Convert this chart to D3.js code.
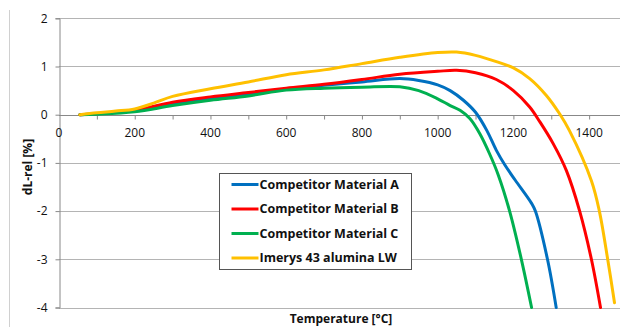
<!DOCTYPE html>
<html>
<head>
<meta charset="utf-8">
<script src="https://cdn.jsdelivr.net/npm/d3@7"></script>
<style>
  body { margin: 0; background: #fff; }
  svg { display: block; font-family: "Open Sans", "Noto Sans", sans-serif; }
</style>
</head>
<body>
<svg id="chart" width="620" height="327"></svg>
<script>
// series values
var seriesNames = ['Competitor Material A', 'Competitor Material B', 'Competitor Material C', 'Imerys 43 alumina LW'];
var seriesColors = ['#0070c0', '#ff0000', '#00b050', '#ffc000'];

var tempA = [55, 100, 200, 300, 400, 500, 600, 700, 800, 900, 950, 1000, 1033, 1068, 1100, 1130, 1155, 1178, 1205, 1248, 1258, 1290, 1313];
var dlA   = [0, 0.02, 0.08, 0.22, 0.33, 0.43, 0.53, 0.61, 0.68, 0.75, 0.71, 0.62, 0.50, 0.30, 0.05, -0.33, -0.74, -1.05, -1.36, -1.84, -2, -3, -4];

var tempB = [55, 100, 200, 300, 400, 500, 600, 700, 800, 900, 1000, 1050, 1100, 1155, 1200, 1243, 1270, 1305, 1340, 1375, 1406, 1430];
var dlB   = [0, 0.02, 0.09, 0.26, 0.37, 0.46, 0.55, 0.63, 0.73, 0.84, 0.90, 0.92, 0.87, 0.73, 0.50, 0.16, -0.15, -0.6, -1.16, -2, -3, -4];

var tempC = [55, 100, 200, 300, 400, 500, 600, 700, 800, 900, 950, 1000, 1033, 1059, 1085, 1111, 1137, 1160, 1190, 1221, 1248];
var dlC   = [0, 0.01, 0.06, 0.19, 0.30, 0.39, 0.51, 0.55, 0.57, 0.58, 0.50, 0.33, 0.19, 0.09, -0.08, -0.39, -0.81, -1.25, -2, -3, -4];

var tempD = [55, 100, 150, 200, 250, 300, 400, 500, 600, 700, 800, 900, 1000, 1050, 1100, 1155, 1200, 1243, 1287, 1322, 1348, 1406, 1427, 1449, 1467];
var dlD   = [0, 0.04, 0.075, 0.12, 0.24, 0.38, 0.54, 0.68, 0.83, 0.93, 1.06, 1.19, 1.29, 1.30, 1.23, 1.10, 0.97, 0.75, 0.40, 0.02, -0.33, -1.37, -2, -3, -3.9];

var xTicks = [0, 200, 400, 600, 800, 1000, 1200, 1400];
var xMinorTicks = d3.range(100, 1600, 100);
var yTicks = [-4, -3, -2, -1, 0, 1, 2];

var svg = d3.select('#chart');

var x = d3.scaleLinear().domain([0, 1500]).range([59, 627]);
var y = d3.scaleLinear().domain([-4, 2]).range([307.5, 18.3]);

// chart-area border on the left
svg.append('line')
  .attr('x1', 9.5).attr('x2', 9.5)
  .attr('y1', 10).attr('y2', 327)
  .attr('stroke', '#d0d0d0');

// horizontal gridlines
svg.append('g')
  .selectAll('line')
  .data(yTicks.filter(function (d) { return d !== 0; }))
  .enter()
  .append('line')
  .attr('x1', x(0)).attr('x2', 620)
  .attr('y1', function (d) { return Math.round(y(d)) + 0.5; })
  .attr('y2', function (d) { return Math.round(y(d)) + 0.5; })
  .attr('stroke', '#b4b4b4');

// y axis
var yAxis = d3.axisLeft(y)
  .tickValues(yTicks)
  .tickSize(4)
  .tickPadding(8)
  .tickFormat(function (d) { return String(d); });

var yG = svg.append('g')
  .attr('transform', 'translate(' + (x(0) + 0.5) + ',0)')
  .call(yAxis);
yG.select('.domain').attr('stroke', '#888');
yG.selectAll('.tick line').attr('stroke', '#888');
yG.selectAll('.tick text')
  .attr('font-family', '"Open Sans", sans-serif')
  .attr('font-size', 12)
  .attr('fill', '#111');

// x axis sits on zero
var zeroY = Math.round(y(0)) + 0.5;
var xAxis = d3.axisBottom(x)
  .tickValues(xMinorTicks)
  .tickSize(4)
  .tickFormat('');

var xG = svg.append('g')
  .attr('transform', 'translate(0,' + zeroY + ')')
  .call(xAxis);
xG.select('.domain').remove();
xG.selectAll('.tick line').attr('stroke', '#888');

svg.append('line')
  .attr('x1', x(0)).attr('x2', 620)
  .attr('y1', zeroY).attr('y2', zeroY)
  .attr('stroke', '#888');

svg.append('g')
  .selectAll('text')
  .data(xTicks)
  .enter()
  .append('text')
  .attr('x', function (d) { return x(d); })
  .attr('y', zeroY + 21)
  .attr('text-anchor', 'middle')
  .attr('font-size', 12)
  .attr('fill', '#111')
  .text(function (d) { return d; });

// lines
var line = d3.line()
  .x(function (d) { return x(d[0]); })
  .y(function (d) { return y(d[1]); })
  .curve(d3.curveCatmullRom.alpha(0.5));

var allTemps = [tempA, tempB, tempC, tempD];
var allDl = [dlA, dlB, dlC, dlD];

var series = allTemps.map(function (temps, i) {
  return temps.map(function (t, j) { return [t, allDl[i][j]]; });
});

svg.append('g')
  .selectAll('path')
  .data(series)
  .enter()
  .append('path')
  .attr('d', line)
  .attr('fill', 'none')
  .attr('stroke', function (d, i) { return seriesColors[i]; })
  .attr('stroke-width', 3)
  .attr('stroke-linejoin', 'round')
  .attr('stroke-linecap', 'round');

// axis titles
svg.append('text')
  .attr('transform', 'translate(32,167) rotate(-90)')
  .attr('text-anchor', 'middle')
  .attr('font-size', 12)
  .attr('font-weight', 'bold')
  .attr('fill', '#111')
  .text('dL-rel [%]');

svg.append('text')
  .attr('x', 341)
  .attr('y', 323)
  .attr('text-anchor', 'middle')
  .attr('font-size', 12)
  .attr('font-weight', 'bold')
  .attr('fill', '#111')
  .text('Temperature [°C]');

// legend
var legend = svg.append('g').attr('transform', 'translate(219.5,173.5)');
legend.append('rect')
  .attr('width', 192).attr('height', 96)
  .attr('fill', '#fff')
  .attr('stroke', '#555');

var item = legend.selectAll('g.item')
  .data(seriesNames)
  .enter()
  .append('g')
  .attr('class', 'item')
  .attr('transform', function (d, i) { return 'translate(0,' + (11 + i * 24.5) + ')'; });

item.append('line')
  .attr('x1', 12).attr('x2', 39)
  .attr('stroke', function (d, i) { return seriesColors[i]; })
  .attr('stroke-width', 3);

item.append('text')
  .attr('x', 40)
  .attr('dy', '0.35em')
  .attr('font-size', 12.5)
  .attr('font-weight', 'bold')
  .attr('fill', '#111')
  .text(function (d) { return d; });
</script>
</body>
</html>
